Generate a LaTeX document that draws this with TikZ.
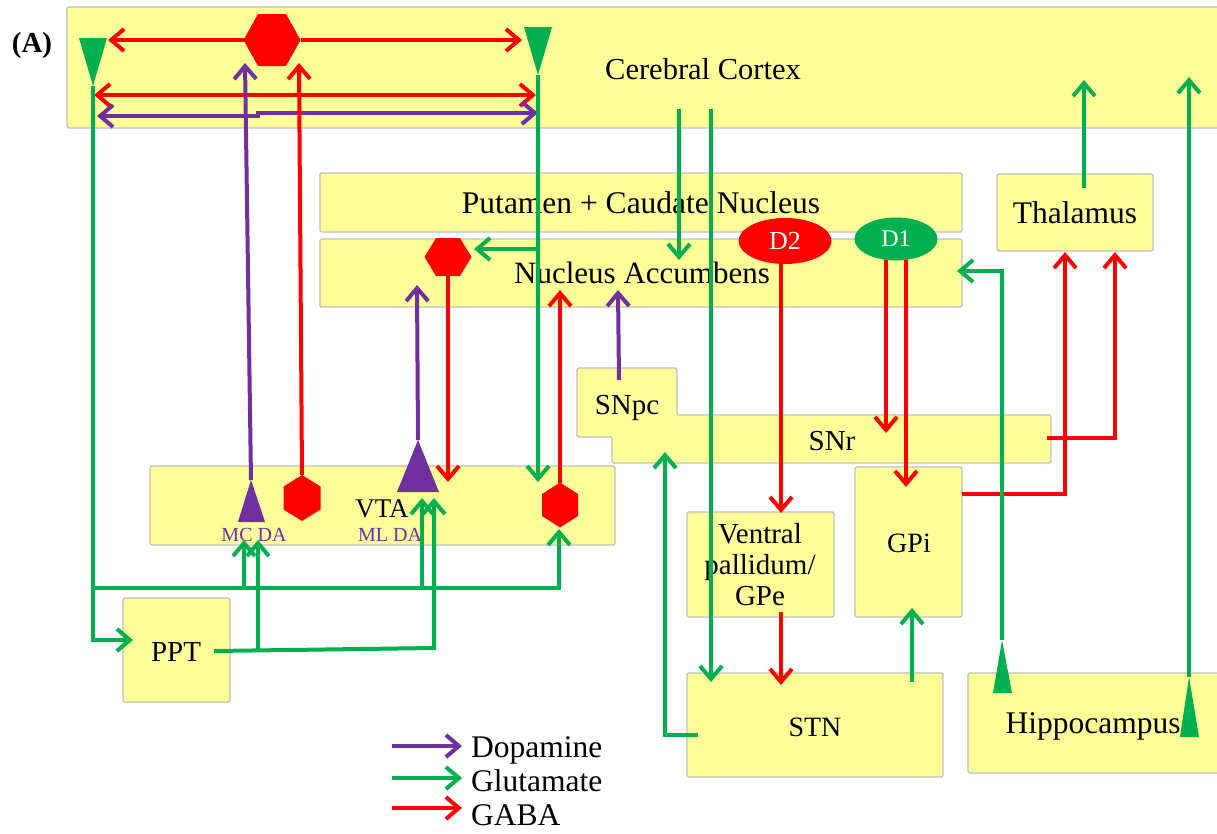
\documentclass[tikz,border=0pt]{standalone}
\usepackage{fontspec}
\setmainfont{Liberation Serif}
\usetikzlibrary{arrows.meta,fit,shapes.geometric}
\definecolor{cred}{HTML}{FF0000}
\definecolor{cgreen}{HTML}{00B050}
\definecolor{cpurple}{HTML}{7030A0}
\definecolor{cbox}{HTML}{FFFF99}
\definecolor{cedge}{HTML}{C0C0C0}
\tikzset{
  region/.style={fill=cbox,draw=cedge,line width=1.2pt,rounded corners=1.5pt,inner sep=0pt},
  lbl/.style={font=\fontsize{29}{31}\selectfont,inner sep=0pt,anchor=base},
  biglbl/.style={font=\fontsize{31.5}{33}\selectfont,inner sep=0pt,anchor=base},
  capslbl/.style={font=\fontsize{28}{30}\selectfont,inner sep=0pt,anchor=base},
  smalllbl/.style={font=\fontsize{20}{22}\selectfont,inner sep=0pt,anchor=base,text=cpurple},
  conn/.style={line width=4pt,->},
  glu/.style={conn,color=cgreen},
  gaba/.style={conn,color=cred},
  dopa/.style={conn,color=cpurple},
}
\begin{document}
\begin{tikzpicture}[x=1pt,y=-1pt,>={Straight Barb[length=13pt,width=22pt]}]
\clip (0,0) rectangle (1217,833);
\fill[white] (0,0) rectangle (1217,833);

% ---------------- regions ----------------
\node[region,fit={(67,7) (1230,128)}] (ctx) {};
\node[region,fit={(320,173) (962,232)}] (put) {};
\node[region,fit={(320,239) (962,307)}] (nac) {};
\node[region,fit={(997,174) (1153,251)}] (thal) {};
\node[region,fit={(150,466) (615,545)}] (vta) {};
\node[region,fit={(123,598) (230,702)}] (ppt) {};
\node[region,fit={(687,512) (834,617)}] (vp) {};
\node[region,fit={(855,467) (962,617)}] (gpi) {};
\node[region,fit={(687,673) (943,777)}] (stn) {};
\node[region,fit={(968,673) (1230,773)}] (hip) {};
\path[region] (577,368) -- (677,368) -- (677,415) -- (1051,415) -- (1051,463)
   -- (612,463) -- (612,437) -- (577,437) -- cycle;

% ---------------- labels ----------------
\node[font=\bfseries\fontsize{29}{31}\selectfont,inner sep=0pt,anchor=base] (lA) at (32,52) {(A)};
\node[font=\fontsize{30.5}{32}\selectfont,inner sep=0pt,anchor=base] (tctx) at (703,79) {Cerebral Cortex};
\node[biglbl] (tput) at (641,213) {Putamen + Caudate Nucleus};
\node[font=\fontsize{31}{33}\selectfont,inner sep=0pt,anchor=base] (tnac) at (642,283) {Nucleus Accumbens};
\node[biglbl] (tthal) at (1075,223) {Thalamus};
\node[lbl] (tsnpc) at (627,414) {SNpc};
\node[lbl] (tsnr) at (832,450) {SNr};
\node[font=\fontsize{27}{29}\selectfont,inner sep=0pt,anchor=base] (tvta) at (382,517) {VTA};
\node[smalllbl] (tmc) at (254,541) {MC DA};
\node[smalllbl] (tml) at (390,541) {ML DA};
\node[lbl] (tppt) at (176,661) {PPT};
\node[lbl] (tvp1) at (760,543) {Ventral};
\node[lbl] (tvp2) at (760,574) {pallidum/};
\node[lbl] (tvp3) at (760,605) {GPe};
\node[capslbl] (tgpi) at (909,552) {GPi};
\node[capslbl] (tstn) at (815,736) {STN};
\node[biglbl] (thip) at (1093,733) {Hippocampus};

% ---------------- receptor ellipses ----------------
\node[ellipse,fill=cred,minimum width=93pt,minimum height=46pt,inner sep=0pt,
      text=white,font=\fontsize{26}{28}\selectfont] (d2) at (785,241) {D2};
\node[ellipse,fill=cgreen,minimum width=83pt,minimum height=43pt,inner sep=0pt,
      text=white,font=\fontsize{24}{26}\selectfont] (d1) at (896,239) {D1};

% ---------------- named points ----------------
\coordinate (hexA) at (272,40);
\coordinate (hexN) at (448,257);
\coordinate (hexV1) at (302,498);
\coordinate (hexV2) at (560,505);
\coordinate (triL) at (93,86);
\coordinate (triR) at (538,75);
\coordinate (triMC) at (251,480);
\coordinate (triML) at (418,440);
\coordinate (triH1) at (1002,640);
\coordinate (triH2) at (1189,677);

% ---------------- connectors ----------------
% cortex internal
\draw[gaba] (243.5,40) -- (108,40);
\draw[gaba] (300.5,40) -- (522,40);
\draw[conn,color=cred,<->] (94,95) -- (536,95);
\draw[conn,color=cpurple,<->] (97,116) -- (258,116) -- (258,113) -- (538,113);

% left cortical neuron -> PPT, VTA
\draw[glu] (triL) -- (93,640) -- (133,640);
\draw[glu] (93,588) -- (559,588) -- (559,529);
\draw[glu] (244,588) -- (244,540);
\draw[glu] (422,588) -- (422,498);
% PPT outputs
\draw[glu] (214,651) -- (434,648) -- (434,498);
\draw[glu] (258,650) -- (258,540);

% right cortical neuron
\draw[glu] (triR) -- (538,482);
\draw[glu] (538,249) -- (474,249);

% VTA projections
\draw[dopa] (triMC) -- (245,63);
\draw[gaba] (302,475) -- (299,63);
\draw[dopa] (triML) -- (417,285);
\draw[gaba] (448,276) -- (448,482);
\draw[gaba] (560,483) -- (560,290);
\draw[dopa] (619,380) -- (618,290);

% cortex -> striatum / STN
\draw[glu] (679,109) -- (679,260);
\draw[glu] (711,109) -- (711,682);

% striatal outputs
\draw[gaba] (781,264) -- (781,513);
\draw[gaba] (886,260) -- (886,433);
\draw[gaba] (906,260) -- (906,487);
\draw[gaba] (781,612) -- (781,685);
\draw[glu] (912,682) -- (912,608);
\draw[glu] (698,735) -- (665,735) -- (665,452);
\draw[gaba] (962,494) -- (1065,494) -- (1065,252);
\draw[gaba] (1047,438) -- (1115,438) -- (1115,252);
\draw[glu] (1084,188) -- (1084,80);

% hippocampus
\draw[glu] (triH1) -- (1002,271) -- (957,271);
\draw[glu] (triH2) -- (1189,77);

% ---------------- neuron shapes ----------------
\fill[cred,shift={(hexA)}] (-28.5,0) -- (-14,-26) -- (14,-26) -- (28.5,0) -- (14,26) -- (-14,26) -- cycle;
\fill[cred,shift={(hexN)}] (-23.5,0) -- (-12,-19) -- (12,-19) -- (23.5,0) -- (12,19) -- (-12,19) -- cycle;
\fill[cred,shift={(hexV1)}] (0,-23) -- (18.5,-11.5) -- (18.5,11.5) -- (0,23) -- (-18.5,11.5) -- (-18.5,-11.5) -- cycle;
\fill[cred,shift={(hexV2)}] (0,-22.5) -- (18,-11) -- (18,11) -- (0,22.5) -- (-18,11) -- (-18,-11) -- cycle;
\fill[cgreen] (79,38) -- (107,38) -- (triL) -- cycle;
\fill[cgreen] (524,27) -- (552,27) -- (triR) -- cycle;
\fill[cpurple] (238,522) -- (265,522) -- (triMC) -- cycle;
\fill[cpurple] (397,492) -- (439,492) -- (triML) -- cycle;
\fill[cgreen] (993,693) -- (1012,693) -- (triH1) -- cycle;
\fill[cgreen] (1180,737) -- (1199,737) -- (triH2) -- cycle;

% ---------------- legend ----------------
\coordinate (lg1) at (392,746);
\coordinate (lg2) at (392,778);
\coordinate (lg3) at (392,808);
\draw[dopa] (lg1) -- (462,746);
\draw[glu] (lg2) -- (462,778);
\draw[gaba] (lg3) -- (462,808);
\node[biglbl,anchor=base west] (ldopa) at (471,757) {Dopamine};
\node[biglbl,anchor=base west] (lglu) at (471,791) {Glutamate};
\node[biglbl,anchor=base west] (lgaba) at (471,825) {GABA};
\end{tikzpicture}
\end{document}
